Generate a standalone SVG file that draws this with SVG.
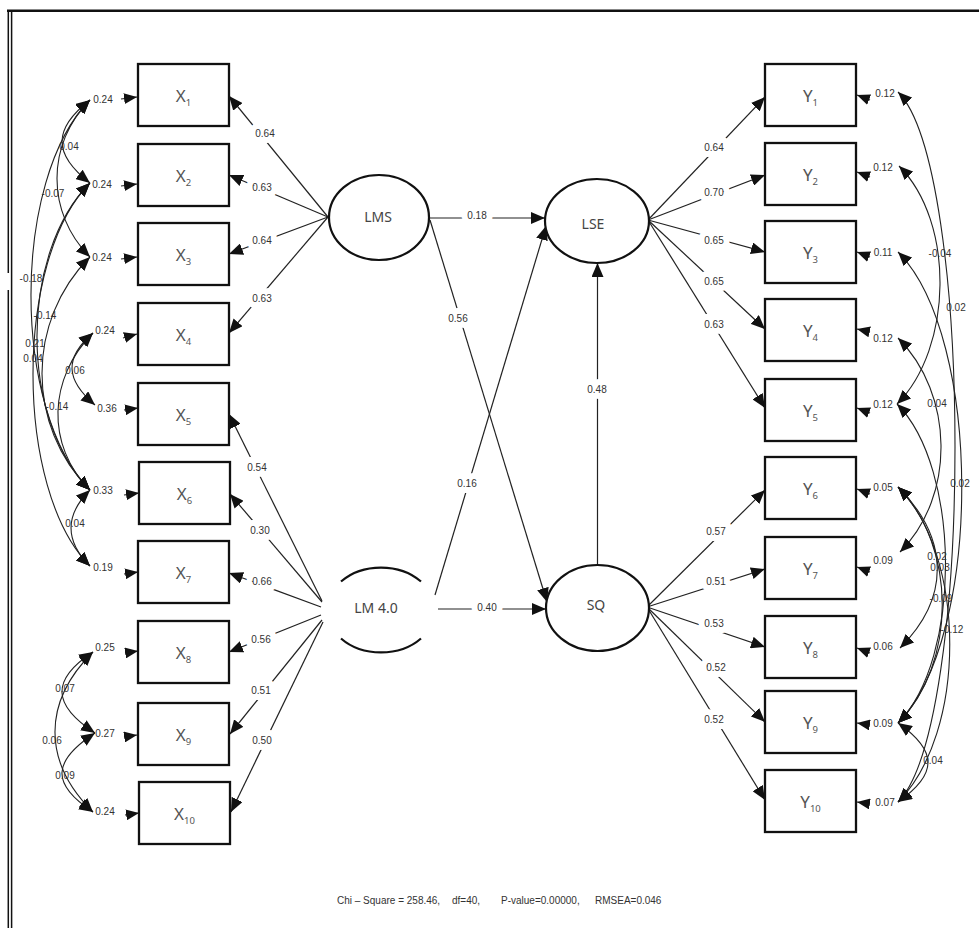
<svg xmlns="http://www.w3.org/2000/svg" width="979" height="928" viewBox="0 0 979 928">
  <style>
    .box { fill: #fff; stroke: #111; stroke-width: 2.3; }
    .lat { fill: #fff; stroke: #111; stroke-width: 2.2; }
    .arc { fill: none; stroke: #111; stroke-width: 2.2; }
    .ln { fill: none; stroke: #222; stroke-width: 1.2; marker-end: url(#ah); }
    .er { fill: none; stroke: #222; stroke-width: 1.1; marker-end: url(#ahs); }
    .cv { fill: none; stroke: #222; stroke-width: 1.1; marker-start: url(#ahc); marker-end: url(#ahc); }
    .frame { fill: none; stroke: #111; }
    .num { font-family: "Liberation Sans", Arial, sans-serif; font-size: 10px; fill: #333; text-anchor: middle; }
    .pl { paint-order: stroke; stroke: #fff; stroke-width: 12px; stroke-linejoin: round; }
    .var { font-family: "Noto Sans", "DejaVu Sans", sans-serif; font-size: 17px; fill: #555; text-anchor: middle; }
    .sub { font-size: 9.5px; }
    .lv { font-family: "Noto Sans", "DejaVu Sans", sans-serif; font-size: 14px; fill: #444; text-anchor: middle; }
    .fit { font-family: "Liberation Sans", Arial, sans-serif; font-size: 10px; fill: #333; }
  </style>
  <defs>
    <marker id="ah" viewBox="0 0 14 12" refX="14" refY="6" markerWidth="14" markerHeight="12" markerUnits="userSpaceOnUse" orient="auto">
      <path d="M0,0 L14,6 L0,12 z" fill="#111"/>
    </marker>
    <marker id="ahs" viewBox="0 0 13 11" refX="13" refY="5.5" markerWidth="13" markerHeight="11" markerUnits="userSpaceOnUse" orient="auto">
      <path d="M0,0 L13,5.5 L0,11 z" fill="#111"/>
    </marker>
    <marker id="ahc" viewBox="0 0 14 12" refX="14" refY="6" markerWidth="14" markerHeight="12" markerUnits="userSpaceOnUse" orient="auto-start-reverse">
      <path d="M0,0 L14,6 L0,12 z" fill="#111"/>
    </marker>
  </defs>

  <rect width="979" height="928" fill="#fff"/>

  <!-- page frame -->
  <g id="frame">
    <line class="frame" x1="7" y1="10.8" x2="979" y2="10.8" stroke-width="2.6"/>
    <line class="frame" x1="8.3" y1="10" x2="8.3" y2="273" stroke-width="1.5"/>
    <line class="frame" x1="8.3" y1="290" x2="8.3" y2="928" stroke-width="1.5"/>
    <line class="frame" x1="11.6" y1="12" x2="11.6" y2="928" stroke-width="1.5"/>
  </g>

  <!-- connectors -->
  <g id="connectors">
    <!-- structural paths -->
    <g id="structural">
      <line class="ln" x1="429" y1="218" x2="545" y2="218"/>
      <line class="ln" x1="430" y1="220" x2="547" y2="602"/>
      <line class="ln" x1="435" y1="595" x2="546" y2="226"/>
      <line class="ln" x1="438" y1="609" x2="546" y2="609"/>
      <line class="ln" x1="597.5" y1="565" x2="597.5" y2="263"/>
      <text class="num pl" x="477" y="219">0.18</text>
      <text class="num pl" x="458" y="322">0.56</text>
      <text class="num pl" x="467" y="487">0.16</text>
      <text class="num pl" x="487" y="611">0.40</text>
      <text class="num pl" x="597" y="393">0.48</text>
    </g>

    <!-- loadings of LMS -->
    <g id="load-lms">
      <line class="ln" x1="328" y1="217" x2="229" y2="96"/>
      <line class="ln" x1="328" y1="217" x2="229" y2="175"/>
      <line class="ln" x1="328" y1="217" x2="229" y2="254"/>
      <line class="ln" x1="328" y1="217" x2="229" y2="333"/>
      <text class="num pl" x="265" y="137">0.64</text>
      <text class="num pl" x="262" y="191">0.63</text>
      <text class="num pl" x="262" y="244">0.64</text>
      <text class="num pl" x="262" y="302">0.63</text>
    </g>

    <!-- loadings of LM 4.0 -->
    <g id="load-lm40">
      <line class="ln" x1="322" y1="601" x2="229" y2="414"/>
      <line class="ln" x1="322" y1="602" x2="230" y2="494"/>
      <line class="ln" x1="321" y1="607" x2="229" y2="573"/>
      <line class="ln" x1="321" y1="615" x2="229" y2="652"/>
      <line class="ln" x1="322" y1="620" x2="230" y2="734"/>
      <line class="ln" x1="323" y1="622" x2="231" y2="812"/>
      <text class="num pl" x="257" y="471">0.54</text>
      <text class="num pl" x="260" y="534">0.30</text>
      <text class="num pl" x="262" y="585">0.66</text>
      <text class="num pl" x="261" y="643">0.56</text>
      <text class="num pl" x="261" y="694">0.51</text>
      <text class="num pl" x="262" y="744">0.50</text>
    </g>

    <!-- loadings of LSE -->
    <g id="load-lse">
      <line class="ln" x1="648" y1="220" x2="765" y2="97"/>
      <line class="ln" x1="648" y1="220" x2="765" y2="175"/>
      <line class="ln" x1="648" y1="220" x2="765" y2="252"/>
      <line class="ln" x1="648" y1="220" x2="765" y2="329"/>
      <line class="ln" x1="648" y1="220" x2="765" y2="408"/>
      <text class="num pl" x="714" y="151">0.64</text>
      <text class="num pl" x="714" y="196">0.70</text>
      <text class="num pl" x="714" y="244">0.65</text>
      <text class="num pl" x="714" y="285">0.65</text>
      <text class="num pl" x="714" y="328">0.63</text>
    </g>

    <!-- loadings of SQ -->
    <g id="load-sq">
      <line class="ln" x1="647" y1="607" x2="765" y2="490"/>
      <line class="ln" x1="647" y1="607" x2="765" y2="569"/>
      <line class="ln" x1="647" y1="607" x2="765" y2="647"/>
      <line class="ln" x1="647" y1="607" x2="765" y2="722"/>
      <line class="ln" x1="647" y1="607" x2="765" y2="800"/>
      <text class="num pl" x="716" y="535">0.57</text>
      <text class="num pl" x="716" y="585">0.51</text>
      <text class="num pl" x="714" y="627">0.53</text>
      <text class="num pl" x="716" y="671">0.52</text>
      <text class="num pl" x="714" y="723">0.52</text>
    </g>

    <!-- error terms of X -->
    <g id="err-x">
      <line class="er" x1="121" y1="99" x2="137" y2="97"/>
      <line class="er" x1="121" y1="186" x2="137" y2="184"/>
      <line class="er" x1="121" y1="259" x2="137" y2="257"/>
      <line class="er" x1="123" y1="338" x2="137" y2="334"/>
      <line class="er" x1="124" y1="410" x2="138" y2="408"/>
      <line class="er" x1="124" y1="495" x2="139" y2="493"/>
      <line class="er" x1="124" y1="574" x2="138" y2="572"/>
      <line class="er" x1="125" y1="653" x2="138" y2="651"/>
      <line class="er" x1="124" y1="737" x2="137" y2="735"/>
      <line class="er" x1="125" y1="815" x2="139" y2="813"/>
      <text class="num" x="103" y="102.5">0.24</text>
      <text class="num" x="102" y="187.5">0.24</text>
      <text class="num" x="102" y="260.5">0.24</text>
      <text class="num" x="105" y="333.5">0.24</text>
      <text class="num" x="107" y="411.5">0.36</text>
      <text class="num" x="103" y="493.5">0.33</text>
      <text class="num" x="103" y="570.5">0.19</text>
      <text class="num" x="105" y="650.5">0.25</text>
      <text class="num" x="105" y="736.5">0.27</text>
      <text class="num" x="105" y="814.5">0.24</text>
    </g>

    <!-- error terms of Y -->
    <g id="err-y">
      <line class="er" x1="870" y1="100" x2="857" y2="95"/>
      <line class="er" x1="870" y1="177" x2="857" y2="172"/>
      <line class="er" x1="870" y1="257" x2="857" y2="252"/>
      <line class="er" x1="870" y1="332" x2="857" y2="329"/>
      <line class="er" x1="870" y1="413" x2="857" y2="408"/>
      <line class="er" x1="870" y1="494" x2="857" y2="489"/>
      <line class="er" x1="870" y1="572" x2="857" y2="567"/>
      <line class="er" x1="870" y1="653" x2="857" y2="648"/>
      <line class="er" x1="870" y1="725" x2="857" y2="723"/>
      <line class="er" x1="870" y1="804" x2="857" y2="802"/>
      <text class="num" x="885" y="96.5">0.12</text>
      <text class="num" x="883" y="170.5">0.12</text>
      <text class="num" x="883" y="255.5">0.11</text>
      <text class="num" x="883" y="341.5">0.12</text>
      <text class="num" x="883" y="407.5">0.12</text>
      <text class="num" x="883" y="490.5">0.05</text>
      <text class="num" x="883" y="563.5">0.09</text>
      <text class="num" x="883" y="649.5">0.06</text>
      <text class="num" x="883" y="726.5">0.09</text>
      <text class="num" x="885" y="805.5">0.07</text>
    </g>

    <!-- error covariances, X side -->
    <g id="cov-x">
      <path class="cv" d="M90,100 C52.7,129 52.7,154 90,183"/>
      <path class="cv" d="M90,100 C46,144 46,213 90,257"/>
      <path class="cv" d="M90,100 C11.3,178.7 11.3,411.3 90,490"/>
      <path class="cv" d="M90,183 C14,259 14,490 90,566"/>
      <path class="cv" d="M90,183 C19.3,253.7 19.3,419.3 90,490"/>
      <path class="cv" d="M90,257 C26,321 26,426 90,490"/>
      <path class="cv" d="M93,333 C48.3,377.7 45.3,445.3 90,490"/>
      <path class="cv" d="M93,333 C63.7,358 65.7,380 95,405"/>
      <path class="cv" d="M90,490 C64.7,515 64.7,541 90,566"/>
      <path class="cv" d="M93,652 C50.3,680 52.3,705 95,733"/>
      <path class="cv" d="M93,652 C42.3,702 42.3,762 93,812"/>
      <path class="cv" d="M95,733 C52.3,761 50.3,784 93,812"/>
      <text class="num" x="69" y="149.5">0.04</text>
      <text class="num" x="53" y="196.5">-0.07</text>
      <text class="num" x="31" y="281.5">-0.18</text>
      <text class="num" x="45" y="318.5">-0.14</text>
      <text class="num" x="35" y="346.5">0.21</text>
      <text class="num" x="33" y="361.5">0.04</text>
      <text class="num" x="57" y="409.5">-0.14</text>
      <text class="num" x="75" y="373.5">0.06</text>
      <text class="num" x="75" y="526.5">0.04</text>
      <text class="num" x="65" y="691.5">0.07</text>
      <text class="num" x="52" y="743.5">0.06</text>
      <text class="num" x="65" y="778.5">0.09</text>
    </g>

    <!-- error covariances, Y side -->
    <g id="cov-y">
      <path class="cv" d="M899,166 C955,222 953,348 897,404"/>
      <path class="cv" d="M898,92 C974,168 974,726 898,802"/>
      <path class="cv" d="M898,338 C954,394 956,496 900,552"/>
      <path class="cv" d="M898,252 C983,337 983,638 898,723"/>
      <path class="cv" d="M898,487 C957,546 957,664 898,723"/>
      <path class="cv" d="M897,404 C961,468 962,659 898,723"/>
      <path class="cv" d="M898,487 C949,538 951,597 900,648"/>
      <path class="cv" d="M898,487 C967,556 967,733 898,802"/>
      <path class="cv" d="M898,723 C938,751 938,774 898,802"/>
      <text class="num" x="940" y="256.5">-0.04</text>
      <text class="num" x="956" y="310.5">0.02</text>
      <text class="num" x="937" y="406.5">0.04</text>
      <text class="num" x="960" y="486.5">0.02</text>
      <text class="num" x="937" y="559.5">0.02</text>
      <text class="num" x="940" y="570.5">0.03</text>
      <text class="num" x="941" y="601.5">-0.09</text>
      <text class="num" x="952" y="632.5">-0.12</text>
      <text class="num" x="933" y="763.5">0.04</text>
    </g>
  </g>

  <!-- latent variables -->
  <g id="lms">
    <ellipse class="lat" cx="379" cy="217.5" rx="50" ry="42.5"/>
    <text class="lv" x="378" y="222">LMS</text>
  </g>
  <g id="lse">
    <ellipse class="lat" cx="597" cy="221" rx="52" ry="42"/>
    <text class="lv" x="593" y="228.5">LSE</text>
  </g>
  <g id="sq">
    <ellipse class="lat" cx="597.5" cy="608" rx="51.5" ry="43"/>
    <text class="lv" x="596" y="610">SQ</text>
  </g>
  <g id="lm40">
    <path class="arc" d="M341,581.5 A54,42.5 0 0 1 421,581.5"/>
    <path class="arc" d="M341,638.5 A54,42.5 0 0 0 421,638.5"/>
    <text class="lv" x="376" y="613">LM 4.0</text>
  </g>

  <!-- observed variables, X -->
  <g id="x1"><rect class="box" x="138" y="64" width="91" height="62"/><text class="var" x="183.5" y="102">X<tspan class="sub" dy="3.5">1</tspan></text></g>
  <g id="x2"><rect class="box" x="138" y="144" width="91" height="62"/><text class="var" x="183.5" y="182">X<tspan class="sub" dy="3.5">2</tspan></text></g>
  <g id="x3"><rect class="box" x="138" y="223" width="91" height="62"/><text class="var" x="183.5" y="261">X<tspan class="sub" dy="3.5">3</tspan></text></g>
  <g id="x4"><rect class="box" x="138" y="303" width="91" height="62"/><text class="var" x="183.5" y="341">X<tspan class="sub" dy="3.5">4</tspan></text></g>
  <g id="x5"><rect class="box" x="138" y="383" width="91" height="62"/><text class="var" x="183.5" y="421">X<tspan class="sub" dy="3.5">5</tspan></text></g>
  <g id="x6"><rect class="box" x="139" y="462" width="91" height="62"/><text class="var" x="184.5" y="500">X<tspan class="sub" dy="3.5">6</tspan></text></g>
  <g id="x7"><rect class="box" x="138" y="541" width="91" height="62"/><text class="var" x="183.5" y="579">X<tspan class="sub" dy="3.5">7</tspan></text></g>
  <g id="x8"><rect class="box" x="138" y="621" width="91" height="62"/><text class="var" x="183.5" y="659">X<tspan class="sub" dy="3.5">8</tspan></text></g>
  <g id="x9"><rect class="box" x="138" y="703" width="91" height="62"/><text class="var" x="183.5" y="741">X<tspan class="sub" dy="3.5">9</tspan></text></g>
  <g id="x10"><rect class="box" x="139" y="782" width="91" height="62"/><text class="var" x="184.5" y="820">X<tspan class="sub" dy="3.5">10</tspan></text></g>

  <!-- observed variables, Y -->
  <g id="y1"><rect class="box" x="765" y="64" width="91" height="62"/><text class="var" x="810.5" y="102">Y<tspan class="sub" dy="3.5">1</tspan></text></g>
  <g id="y2"><rect class="box" x="765" y="143" width="91" height="62"/><text class="var" x="810.5" y="181">Y<tspan class="sub" dy="3.5">2</tspan></text></g>
  <g id="y3"><rect class="box" x="765" y="221" width="91" height="62"/><text class="var" x="810.5" y="259">Y<tspan class="sub" dy="3.5">3</tspan></text></g>
  <g id="y4"><rect class="box" x="765" y="299" width="91" height="62"/><text class="var" x="810.5" y="337">Y<tspan class="sub" dy="3.5">4</tspan></text></g>
  <g id="y5"><rect class="box" x="765" y="379" width="91" height="62"/><text class="var" x="810.5" y="417">Y<tspan class="sub" dy="3.5">5</tspan></text></g>
  <g id="y6"><rect class="box" x="765" y="457" width="91" height="62"/><text class="var" x="810.5" y="495">Y<tspan class="sub" dy="3.5">6</tspan></text></g>
  <g id="y7"><rect class="box" x="765" y="537" width="91" height="62"/><text class="var" x="810.5" y="575">Y<tspan class="sub" dy="3.5">7</tspan></text></g>
  <g id="y8"><rect class="box" x="765" y="616" width="91" height="62"/><text class="var" x="810.5" y="654">Y<tspan class="sub" dy="3.5">8</tspan></text></g>
  <g id="y9"><rect class="box" x="765" y="691" width="91" height="62"/><text class="var" x="810.5" y="729">Y<tspan class="sub" dy="3.5">9</tspan></text></g>
  <g id="y10"><rect class="box" x="765" y="770" width="91" height="62"/><text class="var" x="810.5" y="808">Y<tspan class="sub" dy="3.5">10</tspan></text></g>

  <!-- goodness-of-fit line -->
  <text class="fit" y="904"><tspan x="337">Chi – Square = 258.46,</tspan><tspan x="452">df=40,</tspan><tspan x="501">P-value=0.00000,</tspan><tspan x="595">RMSEA=0.046</tspan></text>
</svg>
